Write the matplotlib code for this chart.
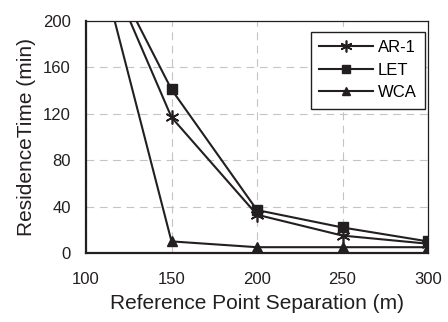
import matplotlib
matplotlib.use("Agg")
import matplotlib.pyplot as plt

plt.rcParams['font.family'] = ['Liberation Sans', 'DejaVu Sans']

x = [100, 150, 200, 250, 300]
ar1 = [288, 117, 33, 15, 8]
let = [285, 141, 37, 22, 10]
wca = [296, 10, 5, 5, 5]
xticks = [100, 150, 200, 250, 300]
yticks = [0, 40, 80, 120, 160, 200]

c = '#231f20'
fig = plt.figure(figsize=(4.48, 3.22), dpi=100)
ax = fig.add_axes([86/448, 1 - 253/322, 342/448, 232/322])
ax.plot(x, ar1, color=c, lw=1.5, marker=(6, 2, 0), ms=10, mew=1.2, label='AR-1')
ax.plot(x, let, color=c, lw=1.5, marker='s', ms=7, label='LET')
ax.plot(x, wca, color=c, lw=1.5, marker='^', ms=7, label='WCA')
ax.set_xlim(100, 300)
ax.set_ylim(0, 200)
ax.set_xticks(xticks)
ax.set_yticks(yticks)
ax.grid(True, color='#c4c4c4', ls=(0, (7, 5)), lw=0.8)
ax.tick_params(length=0, labelsize=12, colors=c)
ax.tick_params(axis='x', pad=14)
ax.tick_params(axis='y', pad=11)
for s in ['left', 'bottom']:
    ax.spines[s].set_linewidth(1.6)
for s in ['top', 'right']:
    ax.spines[s].set_linewidth(0.9)
for s in ax.spines.values():
    s.set_color(c)
ax.set_xlabel('Reference Point Separation (m)', fontsize=15, color=c, labelpad=5)
ax.set_ylabel('ResidenceTime (min)', fontsize=15, color=c, labelpad=5)
leg = ax.legend(loc='upper right', bbox_to_anchor=(0.991, 0.953), fontsize=12,
                frameon=True, fancybox=False, edgecolor=c, framealpha=1,
                handlelength=3.2, borderaxespad=0, labelspacing=0.45,
                handletextpad=0.3, borderpad=0.5, markerscale=0.85)
leg.get_frame().set_linewidth(1.0)
fig.savefig('out.png', dpi=100)
